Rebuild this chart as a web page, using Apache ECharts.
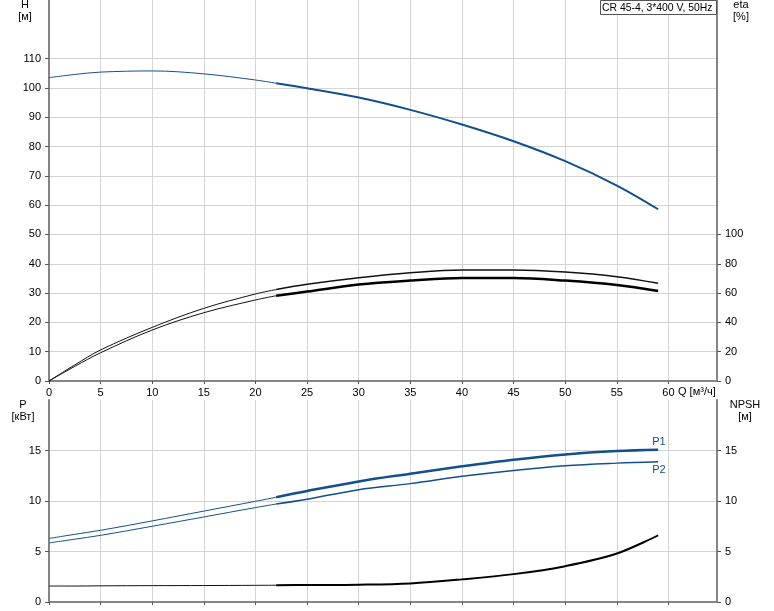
<!DOCTYPE html>
<html>
<head>
<meta charset="utf-8">
<script src="https://cdn.jsdelivr.net/npm/echarts@6/dist/echarts.min.js"></script>
<style>
html,body{margin:0;padding:0;background:#fff;}
#chart{width:774px;height:611px;}
</style>
</head>
<body>
<div id="chart"></div>
<script>
// ---- data ----
const Q        = [0, 2.5, 5, 10, 15, 20, 22, 25, 30, 35, 40, 45, 50, 55, 59];
const H        = [103.5, 104.6, 105.4, 105.8, 104.8, 102.7, 101.6, 99.9, 96.7, 92.5, 87.5, 81.8, 75.0, 66.7, 58.6];
const ETA_P    = [0, 11, 21.2, 36.6, 49.6, 59.4, 62.4, 66.0, 70.5, 73.9, 75.8, 75.8, 74.4, 71.2, 66.7];
const ETA_T    = [0, 10, 19.3, 34.8, 46.6, 55.3, 58.2, 61.0, 65.8, 68.5, 70.3, 70.3, 68.5, 65.5, 61.4];
const P1       = [6.29, 6.7, 7.1, 8.03, 9.0, 9.97, 10.37, 10.99, 11.94, 12.7, 13.43, 14.09, 14.61, 14.94, 15.07];
const P2       = [5.85, 6.22, 6.6, 7.5, 8.42, 9.35, 9.7, 10.17, 11.12, 11.72, 12.44, 13.03, 13.49, 13.75, 13.89];
const NPSH     = [1.58, 1.58, 1.6, 1.62, 1.63, 1.65, 1.66, 1.68, 1.71, 1.84, 2.24, 2.76, 3.55, 4.8, 6.61];
const SPLIT_Q  = 22;            // start of the operating range (thicker line)
const Q_MAX    = 64.7;
// tick labels
const Q_TICKS    = [0, 5, 10, 15, 20, 25, 30, 35, 40, 45, 50, 55, 60];
const H_TICKS    = [0, 10, 20, 30, 40, 50, 60, 70, 80, 90, 100, 110];
const ETA_TICKS  = [0, 20, 40, 60, 80, 100];
const P_TICKS    = [0, 5, 10, 15];
const NPSH_TICKS = [0, 5, 10, 15];
const TITLE    = 'CR 45-4, 3*400 V, 50Hz';

function part(values, thick) {
  const i = Q.indexOf(SPLIT_Q);
  const pairs = Q.map((q, k) => [q, values[k]]);
  return thick ? pairs.slice(i) : pairs.slice(0, i + 1);
}

const FONT = "'Liberation Sans', Arial, sans-serif";
const BLUE = '#124f8e';
const AXIS_GRAY = '#858585';
const GRID_GRAY = '#d4d4d4';

const chart = echarts.init(document.getElementById('chart'), null, {renderer: 'canvas'});

function xAxis(gridIndex, showLabels) {
  return {
    type: 'value', gridIndex, min: 0, max: Q_MAX, interval: 5,
    axisLine: {show: true, onZero: false, lineStyle: {color: AXIS_GRAY, width: 2}},
    axisTick: {show: true, length: 3, customValues: Q_TICKS, lineStyle: {color: '#555'}},
    axisLabel: {show: showLabels, margin: 6, color: '#000', fontSize: 11, fontFamily: FONT,
      customValues: Q_TICKS},
    splitLine: {show: true, lineStyle: {color: GRID_GRAY, width: 1}}
  };
}
function yAxis(gridIndex, pos, max, interval, ticks, split) {
  return {
    type: 'value', gridIndex, position: pos, min: 0, max, interval,
    axisLine: {show: true, onZero: false, lineStyle: {color: AXIS_GRAY, width: 2}},
    axisTick: {show: true, length: 4, customValues: ticks, lineStyle: {color: '#555'}},
    axisLabel: {margin: 8, color: '#000', fontSize: 11, fontFamily: FONT, customValues: ticks},
    splitLine: {show: split, lineStyle: {color: GRID_GRAY, width: 1}}
  };
}

function line(data, xi, yi, color, width, extra) {
  return Object.assign({
    type: 'line', data, xAxisIndex: xi, yAxisIndex: yi, smooth: 0.35,
    showSymbol: false, symbol: 'none', silent: true,
    lineStyle: {color, width}, z: 5
  }, extra || {});
}

function txt(text, x, y, align) {
  return {type: 'text', position: [x, y], z: 50,
    style: {text, fill: '#000', font: '11px ' + FONT, textAlign: align || 'center', textVerticalAlign: 'middle'}};
}

const option = {
  animation: false,
  backgroundColor: '#fff',
  textStyle: {fontFamily: FONT},
  grid: [
    {left: 49, top: 0, right: 57, height: 381, containLabel: false},
    {left: 49, top: 400, right: 57, height: 202, containLabel: false}
  ],
  xAxis: [xAxis(0, true), xAxis(1, false)],
  yAxis: [
    yAxis(0, 'left', 130, 10, H_TICKS, true),
    yAxis(0, 'right', 260, 20, ETA_TICKS, false),
    yAxis(1, 'left', 20, 5, P_TICKS, true),
    yAxis(1, 'right', 20, 5, NPSH_TICKS, false)
  ],
  series: [
    line(part(H, false), 0, 0, BLUE, 1),
    line(part(H, true), 0, 0, BLUE, 2),
    line(part(ETA_P, false), 0, 1, '#111', 1),
    line(part(ETA_P, true), 0, 1, '#111', 1.5),
    line(part(ETA_T, false), 0, 1, '#111', 1),
    line(part(ETA_T, true), 0, 1, '#000', 2.5),
    line(part(P1, false), 1, 2, BLUE, 1),
    line(part(P1, true), 1, 2, BLUE, 2.5, {
      endLabel: {show: true, formatter: 'P1', distance: 0, offset: [-6, -8],
        color: BLUE, fontSize: 11, fontFamily: FONT}
    }),
    line(part(P2, false), 1, 2, BLUE, 1),
    line(part(P2, true), 1, 2, BLUE, 1.5, {
      endLabel: {show: true, formatter: 'P2', distance: 0, offset: [-6, 8],
        color: BLUE, fontSize: 11, fontFamily: FONT}
    }),
    line(part(NPSH, false), 1, 3, '#111', 1),
    line(part(NPSH, true), 1, 3, '#000', 2)
  ],
  graphic: [
    txt('H', 25, 5),
    txt('[м]', 25, 17),
    txt('eta', 741, 5),
    txt('[%]', 741, 17),
    txt('P', 23, 405),
    txt('[кВт]', 23, 417),
    txt('NPSH', 745, 405),
    txt('[м]', 745, 417),
    txt('Q [м³/ч]', 678, 392, 'left'),
    {type: 'rect', z: 100, shape: {x: 600.5, y: 0.5, width: 116, height: 14}, style: {fill: '#fff', stroke: '#555', lineWidth: 1}},
    {type: 'text', z: 101, position: [602, 8], style: {text: TITLE, fill: '#000', font: '10.4px ' + FONT, textAlign: 'left', textVerticalAlign: 'middle'}}
  ]
};
chart.setOption(option);
</script>
</body>
</html>
